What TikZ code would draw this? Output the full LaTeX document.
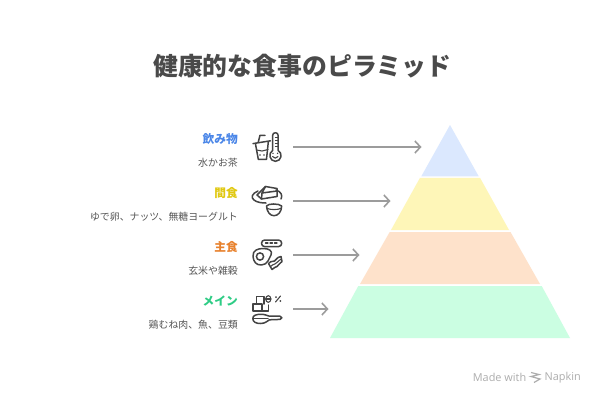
\documentclass[tikz,border=0pt]{standalone}
\usepackage{fontspec}
\setmainfont{Noto Sans CJK JP}
\newfontfamily\latinfont{Open Sans}
\usetikzlibrary{arrows.meta}
\definecolor{inkc}{HTML}{4A4A4A}
\definecolor{subc}{HTML}{555555}
\definecolor{iconc}{HTML}{444444}
\definecolor{arrowc}{HTML}{9C9C9C}
\definecolor{blueh}{HTML}{4A86E8}
\definecolor{yellowh}{HTML}{E0C810}
\definecolor{orangeh}{HTML}{E8822E}
\definecolor{greenh}{HTML}{2ECC85}
\definecolor{tierA}{HTML}{DBE8FE}
\definecolor{tierB}{HTML}{FEF6B8}
\definecolor{tierC}{HTML}{FEE2CB}
\definecolor{tierD}{HTML}{CBFEE2}
\definecolor{markc}{HTML}{ADADAD}
\tikzset{
  x=1pt,y=-1pt,
  headtxt/.style={anchor=east,inner sep=0pt,font=\fontsize{11.7}{12}\selectfont\bfseries},
  subtxt/.style={anchor=east,inner sep=0pt,text=subc,font=\fontsize{9.9}{11}\selectfont},
  conn/.style={draw=arrowc,line width=1.6pt,-{Straight Barb[length=5.5pt,width=12pt,line width=1.6pt]}},
  ico/.style={draw=iconc,line width=1.5pt,line join=round,line cap=round,fill=none},
  icot/.style={draw=iconc,line width=1.1pt,line join=round,line cap=round,fill=none}
}
\begin{document}
\begin{tikzpicture}
\useasboundingbox (0,0) rectangle (605,405);
\fill[white] (0,0) rectangle (605,405);
\node[anchor=center,inner sep=0pt,text=inkc,font=\fontsize{24.85}{26}\selectfont\bfseries] (title) at (302.3,66.3) {健康的な食事のピラミッド};
% pyramid
\fill[tierA] (450,125) -- (478.7,176.3) -- (421.3,176.3) -- cycle;
\fill[tierB] (420,177.8) -- (480,177.8) -- (509,230) -- (391,230) -- cycle;
\fill[tierC] (389.7,232) -- (510.5,232) -- (540,284) -- (360,284) -- cycle;
\fill[tierD] (358.3,286) -- (541.7,286) -- (570,338) -- (330,338) -- cycle;
% labels
\node[headtxt,text=blueh] (h1) at (238,138.7) {飲み物};
\node[subtxt] (s1) at (238,162.4) {水かお茶};
\node[headtxt,text=yellowh] (h2) at (238,193) {間食};
\node[subtxt] (s2) at (238,216.4) {ゆで卵、ナッツ、無糖ヨーグルト};
\node[headtxt,text=orangeh] (h3) at (238,247) {主食};
\node[subtxt] (s3) at (238,270.4) {玄米や雑穀};
\node[headtxt,text=greenh] (h4) at (238,301) {メイン};
\node[subtxt] (s4) at (238,324.4) {鶏むね肉、魚、豆類};
% connectors
\coordinate (a1) at (293,147); \coordinate (b1) at (421.5,147);
\coordinate (a2) at (293,201); \coordinate (b2) at (390.5,201);
\coordinate (a3) at (293,255); \coordinate (b3) at (359.5,255);
\coordinate (a4) at (293,309); \coordinate (b4) at (328.5,309);
\draw[conn] (a1) -- (b1);
\draw[conn] (a2) -- (b2);
\draw[conn] (a3) -- (b3);
\draw[conn] (a4) -- (b4);
% icon 1: drink and thermometer
\draw[ico] (253,143.6) -- (270.5,140.8);
\draw[ico] (258.3,142) -- (260,135.3) -- (265,135.3);
\draw[ico] (255.5,144) -- (258.3,159.3) -- (266.5,159.3) -- (268.3,142);
\draw[icot] (256.5,150) -- (262,151) -- (268,149.5);
\draw[ico,fill=white] (272.6,150.5) -- (272.6,135.5) .. controls (272.6,131.8) and (278.2,131.8) .. (278.2,135.5) -- (278.2,150.5) .. controls (283,153) and (281.5,161.3) .. (275.4,161.3) .. controls (269.5,161.3) and (268,153) .. (272.6,150.5) -- cycle;
\draw[icot] (275.5,137.5) -- (278,137.5) (275.5,140.5) -- (278,140.5) (275.5,143.5) -- (278,143.5) (275.5,146.5) -- (278,146.5);
\draw[icot] (272.6,156.5) .. controls (274,158.7) and (276.5,158.7) .. (278,156.5);
\fill[iconc] (273,153.3) circle[radius=0.8] (277.6,153.3) circle[radius=0.8] (260,155) circle[radius=0.8] (264,155) circle[radius=0.8];
% icon 2: plate and bowl
\draw[ico] (258,191) .. controls (252,193.5) and (250.5,197.5) .. (254,200) .. controls (257,202.5) and (262,203) .. (266,203);
\draw[ico] (276,190) .. controls (281,191.5) and (283,195.5) .. (281,199);
\draw[ico] (261.5,199) -- (262,193) -- (265.5,186.5) -- (277,188.5) -- (277,196.5) -- cycle;
\draw[ico] (262,193) -- (277,191);
\draw[ico] (265.5,186.5) -- (257,195) -- (261.5,199);
\draw[ico] (266.5,206) .. controls (268,203.3) and (279,203.3) .. (281.7,206) .. controls (281.5,212) and (278,215.7) .. (274,215.7) .. controls (270,215.7) and (267,212) .. (266.5,206) -- cycle;
\draw[icot] (267,208.3) .. controls (270,210) and (278,210) .. (281,208.3);
% icon 3: bread, egg, bacon
\draw[ico,rounded corners=3.2pt] (261.5,240) rectangle (281.7,246.6);
\draw[icot] (265.5,243) -- (268,243) (270,243) -- (272.5,243) (274.5,243) -- (277,243);
\draw[ico] (253,256.5) .. controls (252.5,250) and (258,248.5) .. (263.5,248.5) .. controls (269,248.5) and (273,251) .. (271,255) .. controls (269,258) and (268,264.8) .. (261.5,265) .. controls (256,265.3) and (253.5,261.5) .. (253,256.5) -- cycle;
\draw[ico] (260,256.5) circle[radius=3.6];
\draw[ico] (268.5,263.5) .. controls (272,259.5) and (274,263) .. (276,259.5) .. controls (277,257.5) and (279,257) .. (281,256.5) -- (282,261.5) .. controls (279.5,262.5) and (279.5,265) .. (277,266.5) .. controls (275,268) and (274,267) .. (272,269.5) -- cycle;
\draw[icot] (270.5,266.5) .. controls (274,263) and (276,265) .. (277.5,262) .. controls (278.5,260.5) and (280,260) .. (281.5,259);
% icon 4: cubes, zero percent, spoon
\draw[ico] (252.8,304) rectangle (261.8,310.8);
\draw[ico] (261.8,310.8) -- (268.5,310.8) -- (268.5,305);
\draw[ico] (256.7,304) -- (256.7,296.3) -- (264,296.3) -- (264,304);
\draw[icot] (268.3,299) ellipse[x radius=2.6,y radius=3.3];
\draw[icot] (265.7,299) -- (270.9,299);
\draw[icot] (280.5,296) -- (275.5,302);
\fill[iconc] (276,297) circle[radius=1] (280.3,301) circle[radius=1];
\draw[ico] (252.8,318.5) .. controls (252.8,315.2) and (256.5,314.3) .. (261,314.3) .. controls (265,314.3) and (267,315.5) .. (269.5,316.2) -- (280,316.2) .. controls (282.5,316.2) and (282.5,319.4) .. (280,319.4) -- (269.5,319.8) .. controls (267,321) and (265.5,323.5) .. (260.5,323.5) .. controls (256,323.5) and (252.8,322) .. (252.8,318.5) -- cycle;
\draw[ico] (252.8,318.5) -- (268,318.5);
% watermark
\node[anchor=west,inner sep=0pt,text=markc,font=\latinfont\fontsize{10.9}{12}\selectfont] (m1) at (472.7,377.5) {Made with};
\node[anchor=west,inner sep=0pt,text=markc,font=\latinfont\fontsize{10.9}{12}\selectfont] (m2) at (544.5,377.5) {Napkin};
\draw[markc,line width=1.2pt] (531,372.5) -- (539,374.5) -- (531,376.5) -- (540,379) -- (534,382.5);
\end{tikzpicture}
\end{document}
